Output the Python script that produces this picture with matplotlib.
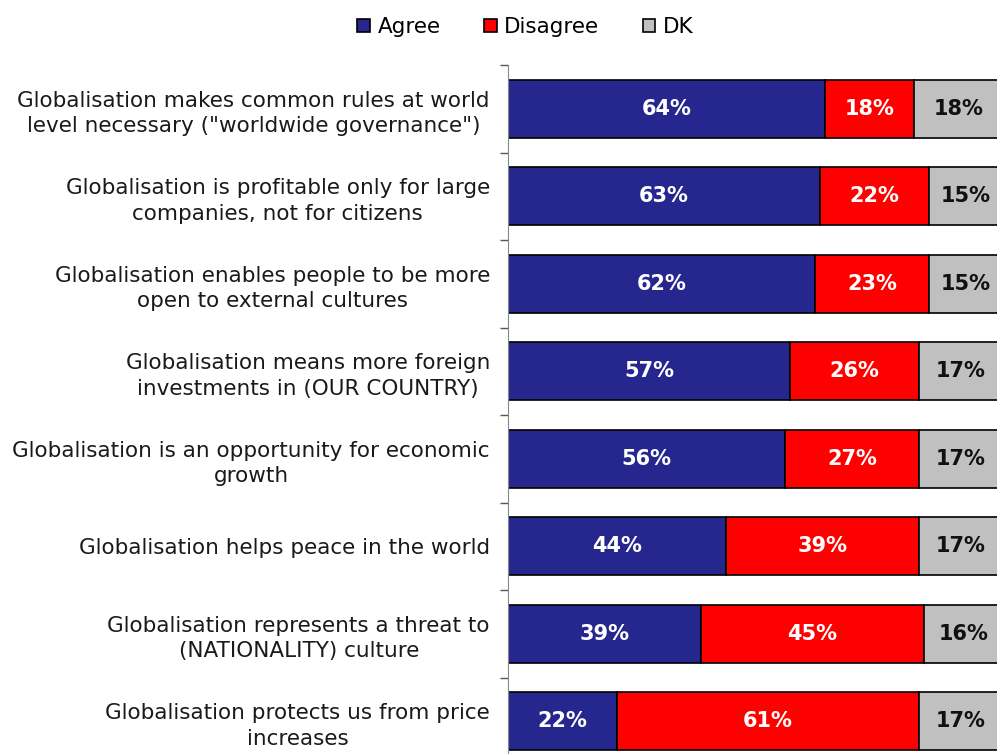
import numpy as np
import matplotlib.pyplot as plt

statements = [
    'Globalisation makes common rules at world\nlevel necessary ("worldwide governance")',
    'Globalisation is profitable only for large\ncompanies, not for citizens',
    'Globalisation enables people to be more\nopen to external cultures',
    'Globalisation means more foreign\ninvestments in (OUR COUNTRY)',
    'Globalisation is an opportunity for economic\ngrowth',
    'Globalisation helps peace in the world',
    'Globalisation represents a threat to\n(NATIONALITY) culture',
    'Globalisation protects us from price\nincreases',
]
agree = [64, 63, 62, 57, 56, 44, 39, 22]
disagree = [18, 22, 23, 26, 27, 39, 45, 61]
dk = [18, 15, 15, 17, 17, 17, 16, 17]

colors = ['#26268f', '#ff0000', '#c0c0c0']
text_colors = ['white', 'white', '#111111']
names = ['Agree', 'Disagree', 'DK']

fig = plt.figure(figsize=(9.97, 7.54), dpi=100)
ax = fig.add_axes([508/997, -11/754, 495/997, 700/754])

y = np.arange(len(statements))
left = np.zeros(len(statements))
for vals, col, tcol, name in zip([agree, disagree, dk], colors, text_colors, names):
    vals = np.array(vals, dtype=float)
    ax.barh(y, vals, left=left, height=0.66, color=col, edgecolor='black',
            linewidth=1.2, label=name)
    for yi, l, v in zip(y, left, vals):
        ax.text(l + v/2, yi, f'{int(v)}%', ha='center', va='center',
                color=tcol, fontsize=15, fontweight='bold')
    left += vals

ax.set_xlim(0, 100)
ax.set_ylim(len(statements) - 0.5, -0.5)
ax.set_yticks(y)
ax.set_yticklabels(statements, fontsize=15.5, color='#1a1a1a', ha='right',
                   multialignment='center', linespacing=1.35)
ax.tick_params(axis='y', which='major', length=0, pad=13)
ax.set_yticks(np.arange(-0.5, len(statements)), minor=True)
ax.tick_params(axis='y', which='minor', length=6, color='#555555', width=1)
ax.set_xticks([])
for s in ['top', 'right', 'bottom']:
    ax.spines[s].set_visible(False)
ax.spines['left'].set_color('#888888')

fig.legend(loc='upper center', bbox_to_anchor=(0.527, 1.003), ncol=3, frameon=False,
           fontsize=15.5, handlelength=0.6, handleheight=0.6, handletextpad=0.35,
           columnspacing=2.0)

fig.savefig('out.png', dpi=100)
